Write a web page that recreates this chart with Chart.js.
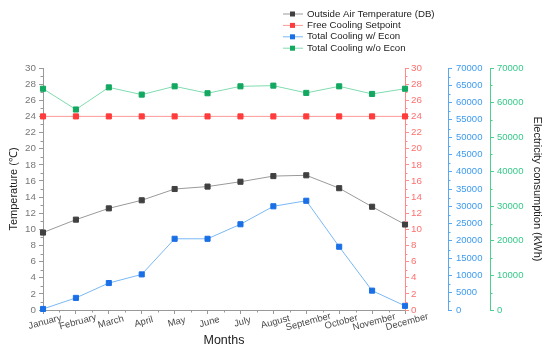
<!DOCTYPE html>
<html>
<head>
<meta charset="utf-8">
<script src="https://cdn.jsdelivr.net/npm/chart.js@4.4.1/dist/chart.umd.min.js"></script>
<style>
  html, body { margin: 0; padding: 0; background: #fff; }
</style>
</head>
<body>
<canvas id="myChart" width="550" height="354"></canvas>
<script>
// values
const months = ['January', 'February', 'March', 'April', 'May', 'June', 'July', 'August', 'September', 'October', 'November', 'December'];
const outsideTemp = [9.6, 11.2, 12.6, 13.6, 15.0, 15.3, 15.9, 16.6, 16.7, 15.1, 12.8, 10.6];
const coolingSetpoint = [24, 24, 24, 24, 24, 24, 24, 24, 24, 24, 24, 24];
const coolingWithEcon = [300, 3500, 7800, 10300, 20600, 20600, 24800, 30000, 31600, 18300, 5600, 1200];
const coolingWithoutEcon = [64000, 58000, 64400, 62300, 64700, 62700, 64700, 64900, 62800, 64700, 62500, 64000];

const FONT = 'Liberation Sans, Arial, sans-serif';

const legendItems = [
    { text: 'Outside Air Temperature (DB)', line: '#9a9a9a', mark: '#404040' },
    { text: 'Free Cooling Setpoint', line: '#ff9a9a', mark: '#ff3b3b' },
    { text: 'Total Cooling w/ Econ', line: '#7ab8f5', mark: '#1a6fe6' },
    { text: 'Total Cooling w/o Econ', line: '#7fdcb0', mark: '#12a860' }
];

function fixWidth(w) {
    return function(scale) { scale.width = w; };
}

// plain numbers, no thousands separator
function plain(value) {
    return String(value);
}

// legend, month labels and minor ticks
const extras = {
    id: 'extras',
    afterDraw(chart) {
        const ctx = chart.ctx;
        ctx.save();

        // legend
        ctx.font = '9.7px ' + FONT;
        ctx.textBaseline = 'middle';
        ctx.textAlign = 'left';
        legendItems.forEach((it, i) => {
            const y = 14 + i * 11.4;
            ctx.strokeStyle = it.line;
            ctx.lineWidth = 1;
            ctx.beginPath();
            ctx.moveTo(283, y);
            ctx.lineTo(303, y);
            ctx.stroke();
            ctx.fillStyle = it.mark;
            ctx.fillRect(290, y - 2.5, 5, 5);
            ctx.fillStyle = '#222';
            ctx.fillText(it.text, 307, y);
        });

        // month labels, slightly tilted
        const x = chart.scales.x;
        ctx.font = '9.5px ' + FONT;
        ctx.fillStyle = '#4a4a4a';
        ctx.textAlign = 'center';
        months.forEach((m, i) => {
            const px = x.getPixelForValue(i);
            ctx.save();
            ctx.translate(px + 2, x.top + 12);
            ctx.rotate(-15 * Math.PI / 180);
            ctx.fillText(m, 0, 0);
            ctx.restore();
        });

        // minor ticks
        ctx.lineWidth = 1;
        ctx.strokeStyle = '#999';
        ctx.beginPath();
        for (let i = 0; i < months.length - 1; i++) {
            const px = Math.round((x.getPixelForValue(i) + x.getPixelForValue(i + 1)) / 2) + 0.5;
            ctx.moveTo(px, x.top);
            ctx.lineTo(px, x.top + 2.5);
        }
        ctx.stroke();

        const minor = [
            { id: 'y', vals: [1, 3, 5, 7, 9, 11, 13, 15, 17, 19, 21, 23, 25, 27, 29], color: '#999', dir: -1 },
            { id: 'yRed', vals: [1, 3, 5, 7, 9, 11, 13, 15, 17, 19, 21, 23, 25, 27, 29], color: '#ff8a8a', dir: 1 },
            { id: 'yBlue', vals: [2500, 7500, 12500, 17500, 22500, 27500, 32500, 37500, 42500, 47500, 52500, 57500, 62500, 67500], color: '#5aa8f0', dir: 1 },
            { id: 'yGreen', vals: [5000, 15000, 25000, 35000, 45000, 55000, 65000], color: '#4ccf90', dir: 1 }
        ];
        minor.forEach(m => {
            const s = chart.scales[m.id];
            const ax = m.dir < 0 ? s.right : s.left;
            ctx.strokeStyle = m.color;
            ctx.beginPath();
            m.vals.forEach(v => {
                const py = Math.round(s.getPixelForValue(v)) + 0.5;
                ctx.moveTo(ax, py);
                ctx.lineTo(ax + m.dir * 2.5, py);
            });
            ctx.stroke();
        });

        ctx.restore();
    }
};

function series(label, data, axis, line, mark) {
    return {
        label: label,
        data: data,
        yAxisID: axis,
        borderColor: line,
        borderWidth: 1,
        backgroundColor: mark,
        pointBackgroundColor: mark,
        pointBorderColor: mark,
        pointStyle: 'rect',
        pointRadius: 3.6,
        pointHoverRadius: 3.6,
        tension: 0,
        clip: false
    };
}

const ctx = document.getElementById('myChart').getContext('2d');
new Chart(ctx, {
    type: 'line',
    data: {
        labels: months,
        datasets: [
            series('Outside Air Temperature (DB)', outsideTemp, 'y', '#9a9a9a', '#404040'),
            series('Free Cooling Setpoint', coolingSetpoint, 'y', '#ff9a9a', '#ff3b3b'),
            series('Total Cooling w/ Econ', coolingWithEcon, 'yBlue', '#7ab8f5', '#1a6fe6'),
            series('Total Cooling w/o Econ', coolingWithoutEcon, 'yGreen', '#7fdcb0', '#12a860')
        ]
    },
    options: {
        responsive: false,
        animation: false,
        layout: { padding: { top: 68, left: 0, right: 0, bottom: 0 } },
        plugins: {
            legend: { display: false },
            tooltip: { enabled: false }
        },
        scales: {
            x: {
                type: 'category',
                offset: false,
                grid: { drawOnChartArea: false, tickLength: 4, color: '#999', offset: false },
                border: { color: '#999' },
                ticks: { display: false, autoSkip: false },
                title: { display: true, text: 'Months', color: '#222', font: { family: FONT, size: 12.5 }, padding: { top: 0, bottom: 6 } },
                afterFit: function(scale) { scale.height = 44; }
            },
            y: {
                position: 'left',
                min: 0, max: 30,
                ticks: { stepSize: 2, color: '#777', padding: 3, font: { family: FONT, size: 9.8 }, callback: plain },
                grid: { drawOnChartArea: false, tickLength: 4, color: '#999' },
                border: { color: '#999' },
                title: { display: true, text: 'Temperature (℃)', color: '#222', font: { family: FONT, size: 11 }, padding: { top: 7, bottom: 0 } },
                afterFit: fixWidth(43)
            },
            yRed: {
                position: 'right',
                weight: 0,
                min: 0, max: 30,
                ticks: { stepSize: 2, color: '#ff6f6f', padding: 2, font: { family: FONT, size: 9.8 }, callback: plain },
                grid: { drawOnChartArea: false, tickLength: 4, color: '#ff8a8a' },
                border: { color: '#ff8a8a' },
                afterFit: fixWidth(43)
            },
            yBlue: {
                position: 'right',
                weight: 1,
                min: 0, max: 70000,
                ticks: { stepSize: 5000, color: '#3d9bf0', padding: 4, font: { family: FONT, size: 9.5 }, callback: plain },
                grid: { drawOnChartArea: false, tickLength: 4, color: '#5aa8f0' },
                border: { color: '#5aa8f0' },
                afterFit: fixWidth(42)
            },
            yGreen: {
                position: 'right',
                weight: 2,
                min: 0, max: 70000,
                ticks: { stepSize: 10000, color: '#35c98a', padding: 3, font: { family: FONT, size: 9.5 }, callback: plain },
                grid: { drawOnChartArea: false, tickLength: 4, color: '#4ccf90' },
                border: { color: '#4ccf90' },
                title: { display: true, text: 'Electricity consumption (kWh)', color: '#222', font: { family: FONT, size: 11 }, padding: { top: 6, bottom: 0 } },
                afterFit: fixWidth(60)
            }
        }
    },
    plugins: [extras]
});
</script>
</body>
</html>
